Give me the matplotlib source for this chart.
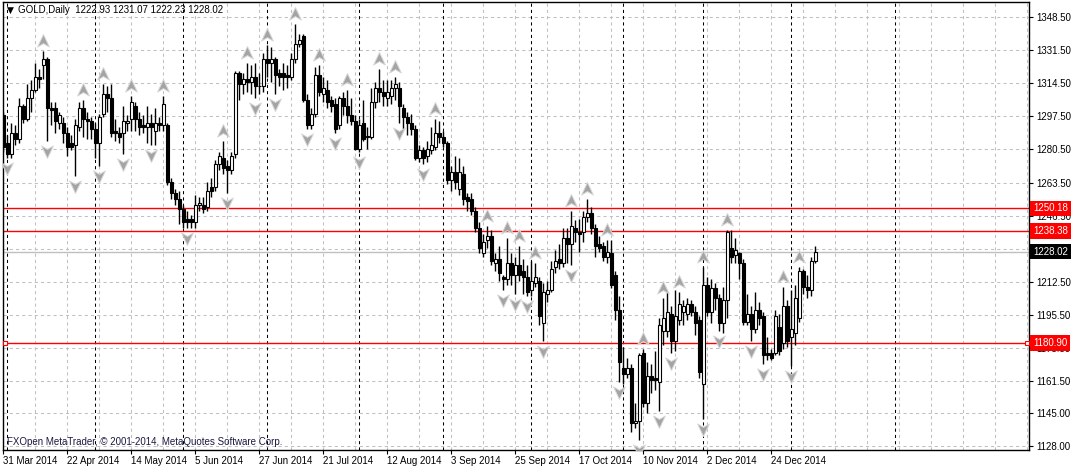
import matplotlib
matplotlib.use('Agg')
import matplotlib.pyplot as plt
from matplotlib.path import Path
from matplotlib import transforms

# daily OHLC, GOLD (31 Mar 2014 ... 9 Jan 2015)
opens = [
    1298, 1284, 1278, 1289, 1286, 1303, 1296, 1307, 1311, 1318,
    1324, 1327, 1302, 1302, 1294, 1294, 1289, 1284, 1283, 1292,
    1302, 1296, 1295, 1291, 1284, 1299, 1309, 1307, 1290, 1289,
    1289, 1294, 1296, 1303, 1296, 1293, 1292, 1294, 1290, 1294,
    1293, 1293, 1264, 1258, 1255, 1250, 1245, 1245, 1243, 1252,
    1252, 1251, 1261, 1261, 1273, 1276, 1272, 1270, 1278, 1320,
    1314, 1317, 1315, 1318, 1313, 1313, 1327, 1325, 1327, 1320,
    1320, 1319, 1318, 1327, 1335, 1339, 1306, 1293, 1299, 1319,
    1309, 1311, 1306, 1304, 1293, 1307, 1303, 1298, 1295, 1281,
    1294, 1287, 1287, 1305, 1312, 1310, 1307, 1308, 1312, 1312,
    1302, 1297, 1294, 1291, 1276, 1280, 1277, 1280, 1282, 1289,
    1287, 1284, 1265, 1269, 1260, 1268, 1256, 1255, 1249, 1240,
    1227, 1234, 1236, 1222, 1224, 1215, 1214, 1222, 1216, 1221,
    1218, 1215, 1208, 1212, 1213, 1191, 1206, 1208, 1220, 1224,
    1222, 1235, 1232, 1240, 1238, 1238, 1246, 1248, 1240, 1232,
    1231, 1225, 1227, 1216, 1198, 1168, 1165, 1168, 1140, 1141,
    1176, 1150, 1164, 1163, 1161, 1187, 1187, 1196, 1182, 1193,
    1197, 1196, 1201, 1197, 1193, 1160, 1211, 1197, 1209, 1204,
    1191, 1203, 1230, 1226, 1227, 1222, 1192, 1196, 1188, 1198,
    1195, 1176, 1176, 1176, 1189, 1181, 1200, 1184, 1186, 1194,
    1218, 1210, 1208, 1222.93,
]
highs = [
    1300, 1288, 1294, 1293, 1307, 1304, 1314, 1316, 1325, 1322,
    1331, 1328, 1305, 1305, 1300, 1297, 1292, 1288, 1296, 1305,
    1306, 1300, 1297, 1294, 1299, 1314, 1313, 1314, 1296, 1292,
    1303, 1298, 1308, 1305, 1300, 1298, 1303, 1299, 1302, 1297,
    1308, 1294, 1266, 1260, 1259, 1252, 1249, 1247, 1257, 1256,
    1256, 1264, 1266, 1275, 1279, 1285, 1275, 1279, 1321, 1321,
    1320, 1325, 1324, 1325, 1320, 1330, 1334, 1333, 1328, 1322,
    1325, 1324, 1330, 1345, 1340, 1340, 1309, 1302, 1323, 1324,
    1318, 1316, 1308, 1307, 1308, 1310, 1311, 1307, 1298, 1296,
    1306, 1292, 1312, 1315, 1322, 1316, 1316, 1316, 1318, 1315,
    1304, 1300, 1299, 1293, 1283, 1282, 1285, 1292, 1296, 1295,
    1290, 1285, 1272, 1277, 1276, 1272, 1258, 1258, 1251, 1243,
    1237, 1241, 1239, 1227, 1231, 1216, 1235, 1227, 1225, 1231,
    1224, 1221, 1223, 1222, 1215, 1212, 1213, 1223, 1229, 1232,
    1240, 1240, 1249, 1244, 1245, 1249, 1255, 1251, 1242, 1236,
    1233, 1234, 1234, 1218, 1205, 1179, 1173, 1170, 1150, 1176,
    1178, 1171, 1170, 1177, 1194, 1204, 1207, 1200, 1208, 1207,
    1203, 1204, 1203, 1200, 1195, 1220, 1215, 1214, 1212, 1206,
    1210, 1239, 1239, 1235, 1228, 1224, 1206, 1200, 1207, 1202,
    1197, 1184, 1178, 1198, 1196, 1210, 1203, 1208, 1211, 1220,
    1219, 1216, 1225, 1231.07,
]
lows = [
    1279, 1276, 1276, 1283, 1284, 1294, 1295, 1300, 1310, 1312,
    1317, 1285, 1293, 1289, 1291, 1284, 1277, 1280, 1267, 1290,
    1287, 1286, 1286, 1276, 1272, 1297, 1300, 1287, 1285, 1284,
    1278, 1290, 1290, 1290, 1288, 1289, 1284, 1283, 1283, 1290,
    1290, 1262, 1255, 1252, 1242, 1240, 1240, 1240, 1240, 1249,
    1248, 1249, 1256, 1259, 1270, 1268, 1258, 1268, 1276, 1306,
    1309, 1310, 1309, 1307, 1309, 1310, 1318, 1315, 1309, 1313,
    1311, 1312, 1316, 1325, 1333, 1305, 1291, 1291, 1297, 1308,
    1305, 1302, 1300, 1289, 1291, 1298, 1294, 1293, 1280, 1279,
    1285, 1281, 1286, 1302, 1305, 1303, 1303, 1304, 1306, 1294,
    1291, 1288, 1288, 1275, 1274, 1273, 1274, 1278, 1280, 1284,
    1282, 1263, 1259, 1260, 1257, 1252, 1249, 1247, 1238, 1227,
    1225, 1230, 1221, 1218, 1213, 1208, 1211, 1211, 1206, 1213,
    1206, 1205, 1205, 1210, 1190, 1182, 1202, 1207, 1217, 1219,
    1220, 1222, 1221, 1233, 1228, 1233, 1243, 1237, 1225, 1228,
    1223, 1222, 1209, 1193, 1161, 1160, 1163, 1135, 1137, 1131,
    1148, 1145, 1155, 1157, 1146, 1180, 1184, 1176, 1177, 1190,
    1190, 1193, 1195, 1185, 1163, 1142, 1195, 1191, 1198, 1187,
    1186, 1194, 1222, 1222, 1214, 1190, 1190, 1182, 1186, 1190,
    1170, 1172, 1172, 1175, 1175, 1178, 1179, 1169, 1180, 1192,
    1206, 1204, 1205, 1222.23,
]
closes = [
    1282, 1278, 1289, 1286, 1303, 1296, 1307, 1311, 1318, 1317,
    1327, 1302, 1301, 1295, 1298, 1289, 1282, 1282, 1293, 1302,
    1296, 1295, 1291, 1284, 1297, 1309, 1307, 1289, 1289, 1287,
    1295, 1295, 1305, 1296, 1292, 1292, 1294, 1292, 1294, 1293,
    1304, 1264, 1258, 1255, 1250, 1243, 1243, 1243, 1252, 1253,
    1250, 1259, 1259, 1273, 1277, 1271, 1270, 1277, 1320, 1314,
    1317, 1315, 1318, 1313, 1313, 1327, 1325, 1327, 1319, 1318,
    1318, 1318, 1327, 1335, 1337, 1306, 1293, 1299, 1319, 1310,
    1312, 1305, 1303, 1291, 1307, 1303, 1298, 1295, 1281, 1293,
    1286, 1287, 1305, 1312, 1310, 1308, 1310, 1312, 1314, 1303,
    1297, 1294, 1291, 1276, 1280, 1276, 1281, 1283, 1289, 1287,
    1284, 1265, 1269, 1264, 1269, 1255, 1254, 1249, 1240, 1230,
    1233, 1236, 1223, 1224, 1217, 1214, 1222, 1216, 1221, 1216,
    1215, 1207, 1213, 1215, 1195, 1207, 1208, 1219, 1223, 1222,
    1235, 1232, 1241, 1238, 1237, 1246, 1248, 1240, 1231, 1230,
    1225, 1228, 1211, 1198, 1171, 1165, 1168, 1140, 1141, 1175,
    1150, 1164, 1162, 1162, 1190, 1194, 1197, 1182, 1195, 1201,
    1200, 1201, 1197, 1191, 1166, 1211, 1197, 1209, 1204, 1191,
    1203, 1238, 1225, 1229, 1222, 1192, 1196, 1188, 1198, 1194,
    1175, 1175, 1173, 1195, 1177, 1200, 1182, 1188, 1204, 1218,
    1210, 1208, 1223, 1228.02,
]

# fractal bars (Bill Williams)
fractal_up = [10, 20, 25, 32, 40, 55, 61, 66, 73, 79, 86, 94, 98, 108, 121, 126,
              129, 133, 142, 146, 151, 160, 165, 169, 175, 181, 195, 199]
fractal_down = [1, 11, 18, 24, 30, 37, 46, 56, 63, 68, 76, 83, 89, 99, 105, 125,
                128, 131, 135, 142, 154, 159, 164, 167, 175, 179, 187, 190, 197]

# month separators (bar index)
month_sep = [1, 23, 45, 66, 89, 110, 132, 155, 175, 197, 223]

date_labels = ['31 Mar 2014', '22 Apr 2014', '14 May 2014', '5 Jun 2014', '27 Jun 2014',
               '21 Jul 2014', '12 Aug 2014', '3 Sep 2014', '25 Sep 2014', '17 Oct 2014',
               '10 Nov 2014', '2 Dec 2014', '24 Dec 2014']
price_ticks = [1348.5, 1331.5, 1314.5, 1297.5, 1280.5, 1263.5, 1246.5, 1229.5,
               1212.5, 1195.5, 1178.5, 1161.5, 1145.0, 1128.0]
red_levels = [1250.18, 1238.38, 1180.90]
bid = closes[-1]

plt.rcParams['font.family'] = ['Liberation Sans', 'DejaVu Sans']
FS = 7

W, H = 1072, 468
fig = plt.figure(figsize=(W / 100, H / 100), dpi=100)
ax = fig.add_axes([3 / W, 18 / H, 1026 / W, 448 / H])

n = len(closes)
x = list(range(n))

# grid
for gx in range(0, 264, 8):
    ax.axvline(gx, color='#c0c0c0', lw=0.75, ls=(0, (3, 3)), zorder=0)
for p in price_ticks:
    ax.axhline(p, color='#c0c0c0', lw=0.75, ls=(0, (3, 3)), zorder=0)
for s in month_sep:
    ax.axvline(s, color='black', lw=0.75, ls=(0, (3, 3)), zorder=1)

# levels
for lv in red_levels:
    ax.axhline(lv, color='red', lw=1, zorder=2)
ax.axhline(bid, color='#c0c0c0', lw=1, zorder=2)

# candles
ax.vlines(x, lows, highs, color='black', lw=1, zorder=3)
bottoms = [min(o, c) for o, c in zip(opens, closes)]
heights = [max(abs(c - o), 0.4) for o, c in zip(opens, closes)]
colors = ['white' if c >= o else 'black' for o, c in zip(opens, closes)]
ax.bar(x, heights, bottom=bottoms, width=0.62, color=colors, edgecolor='black',
       linewidth=0.8, zorder=4)

# fractal arrows
up_path = Path([(0, 1), (0.85, -0.8), (0, -0.3), (-0.85, -0.8), (0, 1)],
               [Path.MOVETO, Path.LINETO, Path.LINETO, Path.LINETO, Path.CLOSEPOLY])
dn_path = Path([(0, -1), (0.85, 0.8), (0, 0.3), (-0.85, 0.8), (0, -1)],
               [Path.MOVETO, Path.LINETO, Path.LINETO, Path.LINETO, Path.CLOSEPOLY])
up_tr = transforms.offset_copy(ax.transData, fig=fig, x=0, y=10, units='dots')
dn_tr = transforms.offset_copy(ax.transData, fig=fig, x=0, y=-10, units='dots')
ax.plot(fractal_up, [highs[i] for i in fractal_up], ls='none', marker=up_path,
        ms=10, mfc='#a4a4a4', mec='#d8d8d8', mew=0.7, transform=up_tr, zorder=5)
ax.plot(fractal_down, [lows[i] for i in fractal_down], ls='none', marker=dn_path,
        ms=10, mfc='#a4a4a4', mec='#d8d8d8', mew=0.7, transform=dn_tr, zorder=5)

ax.set_xlim(-0.125, 256.4)
ax.set_ylim(1125.92, 1356.37)

# axes styling
for sp in ax.spines.values():
    sp.set_color('black')
    sp.set_linewidth(1)
ax.yaxis.tick_right()
ax.set_yticks(price_ticks)
ax.set_yticklabels(['%.2f' % p for p in price_ticks])
ax.tick_params(axis='y', length=3, width=0.8, pad=2, labelsize=FS, colors='black')
ax.set_xticks(range(0, 16 * len(date_labels), 16))
ax.set_xticklabels(date_labels, ha='left')
ax.tick_params(axis='x', length=3, width=0.8, pad=1, labelsize=FS, colors='black')

# price boxes on the right (they cover the axis labels beneath, as in the terminal)
btr = transforms.blended_transform_factory(ax.transAxes, ax.transData)
for lv in red_levels:
    ax.text(1.0 + 4 / 1026, lv, '%.2f' % lv, transform=btr, color='white', fontsize=FS,
            va='center', ha='left', clip_on=False, zorder=10,
            bbox=dict(boxstyle='square,pad=0.3', fc='red', ec='none'))
ax.text(1.0 + 4 / 1026, bid, '%.2f' % bid, transform=btr, color='white', fontsize=FS,
        va='center', ha='left', clip_on=False, zorder=10,
        bbox=dict(boxstyle='square,pad=0.3', fc='black', ec='none'))

# handles of the selected line
ax.plot([2 / 1026, 1024 / 1026], [red_levels[2]] * 2, ls='none', marker='s', ms=3.5,
        mfc='white', mec='red', mew=0.8, transform=btr, clip_on=False, zorder=6)

# header and footer
header = 'GOLD,Daily  %.2f %.2f %.2f %.2f' % (opens[-1], highs[-1], lows[-1], closes[-1])
fig.text(10 / W, 1 - 10 / H, '\u25bc', fontsize=6.5, va='center', ha='center',
         family='DejaVu Sans')
fig.text(18 / W, 1 - 10 / H, header, fontsize=FS, va='center', ha='left')
fig.text(7 / W, 1 - 442 / H, 'FXOpen MetaTrader, \u00a9 2001-2014, MetaQuotes Software Corp.',
         fontsize=FS, va='center', ha='left', color='#1a1a40')

fig.savefig('out.png', dpi=100, facecolor='white')
